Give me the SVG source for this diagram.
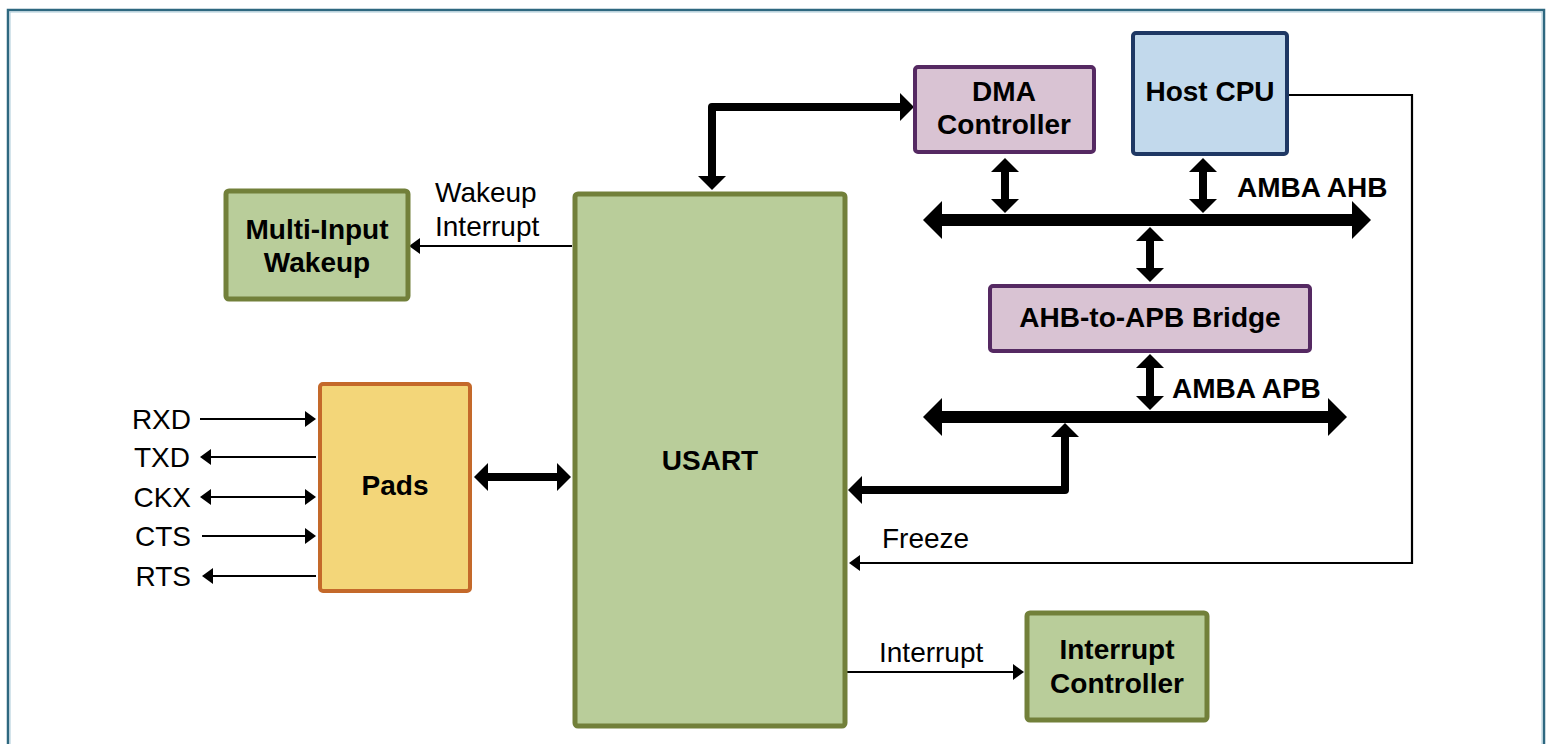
<svg xmlns="http://www.w3.org/2000/svg" width="1551" height="744" viewBox="0 0 1551 744">
<style>
.t{font-family:"Liberation Sans",Arial,sans-serif;font-size:28px;fill:#000}
.b{font-weight:bold;text-anchor:middle}
rect.n{rx:3px}
.green{fill:#b9cd9a;stroke:#72803a;stroke-width:5}
.purple{fill:#d9c3d3;stroke:#552962;stroke-width:4}
.blue{fill:#c2d9ec;stroke:#1f3864;stroke-width:4}
.orange{fill:#f3d679;stroke:#c4692a;stroke-width:4}
.thick{fill:none;stroke:#000;stroke-width:8;stroke-linejoin:round}
.bus{fill:none;stroke:#000;stroke-width:12}
.thin{fill:none;stroke:#000;stroke-width:2.2}
</style>
<defs>
<marker id="ah" viewBox="0 0 14 28" refX="0" refY="14" markerWidth="14" markerHeight="28" markerUnits="userSpaceOnUse" orient="auto-start-reverse"><path d="M0,0 L14,14 L0,28 Z" fill="#000"/></marker>
<marker id="bh" viewBox="0 0 19 38" refX="0" refY="19" markerWidth="19" markerHeight="38" markerUnits="userSpaceOnUse" orient="auto-start-reverse"><path d="M0,0 L19,19 L0,38 Z" fill="#000"/></marker>
<marker id="sh" viewBox="0 0 11 16" refX="0" refY="8" markerWidth="11" markerHeight="16" markerUnits="userSpaceOnUse" orient="auto-start-reverse"><path d="M0,0 L11,8 L0,16 Z" fill="#000"/></marker>
</defs>
<rect x="0" y="0" width="1551" height="744" fill="#fff"/>
<rect x="8" y="10" width="1536" height="760" fill="none" stroke="#2e6880" stroke-width="2.5"/>
<rect x="10" y="12" width="1532" height="760" fill="none" stroke="#a9cad8" stroke-width="1"/>

<g id="connectors">
<path class="bus" d="M942,220 H1352" marker-start="url(#bh)" marker-end="url(#bh)"/>
<path class="bus" d="M942,417 H1328" marker-start="url(#bh)" marker-end="url(#bh)"/>
<path class="thick" d="M1005,172 V199" marker-start="url(#ah)" marker-end="url(#ah)"/>
<path class="thick" d="M1203,172 V199" marker-start="url(#ah)" marker-end="url(#ah)"/>
<path class="thick" d="M1150,241 V268" marker-start="url(#ah)" marker-end="url(#ah)"/>
<path class="thick" d="M1150,368 V396" marker-start="url(#ah)" marker-end="url(#ah)"/>
<path class="thick" d="M712,176 V107 H900" marker-start="url(#ah)" marker-end="url(#ah)"/>
<path class="thick" d="M862,490 H1065 V437" marker-start="url(#ah)" marker-end="url(#ah)"/>
<path class="thick" d="M488,477 H557" marker-start="url(#ah)" marker-end="url(#ah)"/>
<path class="thin" d="M1289,95 H1412 V563 H860" marker-end="url(#sh)"/>
<path class="thin" d="M572,246 H420" marker-end="url(#sh)"/>
<path class="thin" d="M847,672 H1013" marker-end="url(#sh)"/>
<path class="thin" d="M200,419 H305" marker-end="url(#sh)"/>
<path class="thin" d="M316,457 H211" marker-end="url(#sh)"/>
<path class="thin" d="M211,497 H305" marker-start="url(#sh)" marker-end="url(#sh)"/>
<path class="thin" d="M202,536 H305" marker-end="url(#sh)"/>
<path class="thin" d="M316,576 H213" marker-end="url(#sh)"/>
<text class="t" x="435" y="202">Wakeup</text>
<text class="t" x="435" y="236">Interrupt</text>
<text class="t" x="879" y="662">Interrupt</text>
<text class="t" x="882" y="548">Freeze</text>
<text class="t" x="191" y="429" text-anchor="end">RXD</text>
<text class="t" x="190" y="467" text-anchor="end">TXD</text>
<text class="t" x="191" y="507" text-anchor="end">CKX</text>
<text class="t" x="191" y="546" text-anchor="end">CTS</text>
<text class="t" x="191" y="586" text-anchor="end">RTS</text>
<text class="t" x="1237" y="197" font-weight="bold">AMBA AHB</text>
<text class="t" x="1172" y="398" font-weight="bold">AMBA APB</text>
</g>

<g id="usart"><rect class="n green" x="575" y="194" width="270" height="532" stroke-width="6"/><text class="t b" x="710" y="470">USART</text></g>
<g id="wakeup"><rect class="n green" x="226" y="191" width="182" height="108"/><text class="t b" x="317" y="239">Multi-Input</text><text class="t b" x="317" y="272">Wakeup</text></g>
<g id="pads"><rect class="n orange" x="320" y="384" width="150" height="207"/><text class="t b" x="395" y="495">Pads</text></g>
<g id="dma"><rect class="n purple" x="915" y="67" width="179" height="85"/><text class="t b" x="1004" y="101">DMA</text><text class="t b" x="1004" y="134">Controller</text></g>
<g id="cpu"><rect class="n blue" x="1133" y="33" width="154" height="121"/><text class="t b" x="1210" y="101">Host CPU</text></g>
<g id="bridge"><rect class="n purple" x="990" y="286" width="320" height="65"/><text class="t b" x="1150" y="327">AHB-to-APB Bridge</text></g>
<g id="intc"><rect class="n green" x="1027" y="613" width="180" height="107"/><text class="t b" x="1117" y="659">Interrupt</text><text class="t b" x="1117" y="693">Controller</text></g>
</svg>
